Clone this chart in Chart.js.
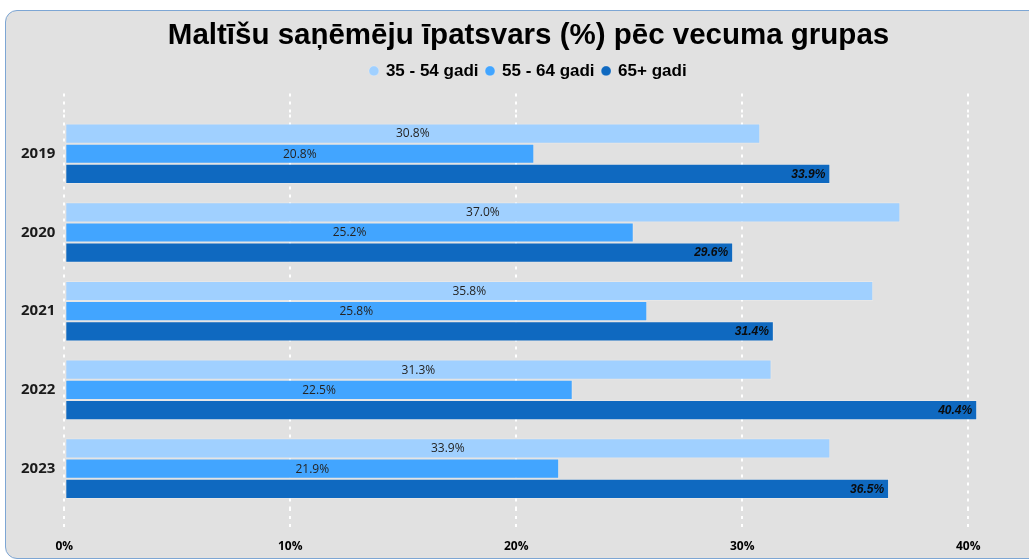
<!DOCTYPE html>
<html lang="lv">
<head>
    <meta charset="UTF-8">
    <title>Maltīšu saņēmēju īpatsvars</title>
    <script src="https://cdn.jsdelivr.net/npm/chart.js"></script>
    <style>
        body { margin: 0; background: #ffffff; overflow: hidden; }
        #panel {
            position: absolute; left: 5px; top: 10px;
            width: 1080px; height: 547px;
            background: #e1e1e1;
            border: 1px solid #7da6d4;
            border-radius: 12px;
        }
        #wrap { position: absolute; left: 0; top: 0; width: 1060px; height: 547px; }
    </style>
</head>
<body>
    <div id="panel">
        <div id="wrap"><canvas id="chart"></canvas></div>
    </div>

    <script>
        // dati
        var years = ['2019', '2020', '2021', '2022', '2023'];
        var seriesNames = ['35 - 54 gadi', '55 - 64 gadi', '65+ gadi'];
        var age35_54 = [30.8, 37.0, 35.8, 31.3, 33.9];
        var age55_64 = [20.8, 25.2, 25.8, 22.5, 21.9];
        var age65plus = [33.9, 29.6, 31.4, 40.4, 36.5];
        var xTicks = [0, 10, 20, 30, 40];

        var colors = ['#a0d0ff', '#42a5ff', '#0f69c0'];

        // vērtību uzraksti uz stabiņiem
        var barLabels = {
            id: 'barLabels',
            afterDatasetsDraw: function (chart) {
                var ctx = chart.ctx;
                ctx.save();
                ctx.textBaseline = 'middle';
                chart.data.datasets.forEach(function (ds, i) {
                    var meta = chart.getDatasetMeta(i);
                    meta.data.forEach(function (bar, j) {
                        var p = bar.getProps(['x', 'y', 'base'], true);
                        var txt = ds.data[j].toFixed(1) + '%';
                        if (i < 2) {
                            ctx.font = '12px "Open Sans"';
                            ctx.fillStyle = '#252423';
                            ctx.textAlign = 'center';
                            ctx.fillText(txt, (p.x + p.base) / 2, p.y + 0.5);
                        } else {
                            ctx.font = 'italic bold 12px "Liberation Sans"';
                            ctx.fillStyle = '#0b0b0b';
                            ctx.textAlign = 'right';
                            ctx.fillText(txt, p.x - 5, p.y + 0.5);
                        }
                    });
                });
                ctx.restore();
            }
        };

        function keepTicks(scale) {
            scale.ticks = xTicks.map(function (v) { return { value: v }; });
        }

        var gridOpts = {
            color: '#ffffff',
            lineWidth: 2,
            tickColor: '#ffffff',
            tickBorderDash: [3, 5],
            tickWidth: 2
        };

        new Chart(document.getElementById('chart'), {
            type: 'bar',
            data: {
                labels: years,
                datasets: [
                    { label: seriesNames[0], data: age35_54, backgroundColor: colors[0] },
                    { label: seriesNames[1], data: age55_64, backgroundColor: colors[1] },
                    { label: seriesNames[2], data: age65plus, backgroundColor: colors[2] }
                ]
            },
            options: {
                indexAxis: 'y',
                responsive: true,
                maintainAspectRatio: false,
                animation: false,
                datasets: {
                    bar: {
                        barPercentage: 1,
                        categoryPercentage: 0.77,
                        borderWidth: 1,
                        borderColor: 'rgba(255,255,255,0.22)',
                        borderSkipped: false
                    }
                },
                layout: { padding: { left: 6, right: 21, top: 0, bottom: 0 } },
                plugins: {
                    title: {
                        display: true,
                        text: 'Maltīšu saņēmēju īpatsvars (%) pēc vecuma grupas',
                        color: '#000000',
                        font: { family: '"Liberation Sans", Arial', size: 29.5, weight: 'bold' },
                        padding: { top: 7, bottom: 1 }
                    },
                    legend: {
                        position: 'top',
                        labels: {
                            usePointStyle: true,
                            pointStyle: 'circle',
                            boxWidth: 7,
                            boxHeight: 7,
                            padding: 8,
                            color: '#000000',
                            font: { family: '"Liberation Sans", Arial', size: 17, weight: 'bold' }
                        }
                    },
                    tooltip: { enabled: false }
                },
                scales: {
                    x: {
                        position: 'bottom',
                        min: 0,
                        max: 43.4,
                        afterBuildTicks: keepTicks,
                        afterFit: function (scale) { scale.height = 50; },
                        border: { display: false, dash: [3, 5] },
                        grid: Object.assign({ tickLength: 22 }, gridOpts),
                        ticks: {
                            padding: 9,
                            color: '#000000',
                            font: { family: '"Open Sans"', size: 12, weight: 'bold' },
                            callback: function (v) { return v + '%'; }
                        }
                    },
                    x2: {
                        position: 'top',
                        min: 0,
                        max: 43.4,
                        afterBuildTicks: keepTicks,
                        afterFit: function (scale) { scale.height = 25; },
                        border: { display: false },
                        grid: Object.assign({ tickLength: 21, drawOnChartArea: false }, gridOpts),
                        ticks: { display: false }
                    },
                    y: {
                        border: { display: false },
                        grid: { display: false, drawTicks: false },
                        ticks: {
                            padding: 9,
                            color: '#1a1a1a',
                            font: { family: '"Open Sans"', size: 15, weight: 'bold' }
                        }
                    }
                }
            },
            plugins: [barLabels]
        });
    </script>
</body>
</html>
